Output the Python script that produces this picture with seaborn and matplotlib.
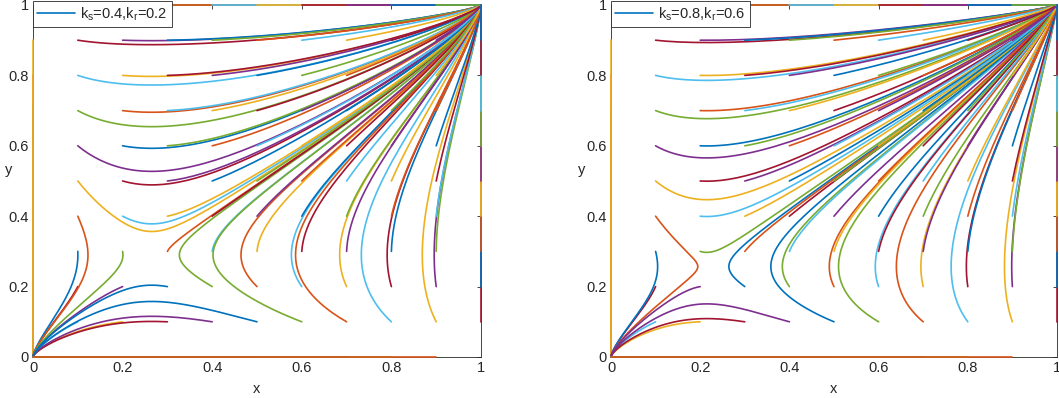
import matplotlib
matplotlib.use("Agg")
import matplotlib.pyplot as plt
import numpy as np
import pandas as pd
import seaborn as sns
from matplotlib.lines import Line2D

# initial points of the phase portrait: every (x0, y0) on this grid
START_VALUES = [0.0, 0.1, 0.2, 0.3, 0.4, 0.5, 0.6, 0.7, 0.8, 0.9, 1.0]

# one entry per panel
K_S = [0.4, 0.8]
K_R = [0.2, 0.6]
SADDLE_X = [0.265, 0.215]
SADDLE_Y = [0.29, 0.257]
RATE_RATIO = [1.35, 1.24]   # speed of x relative to y

TICK_VALUES = [0, 0.2, 0.4, 0.6, 0.8, 1]
TICK_LABELS = ["0", "0.2", "0.4", "0.6", "0.8", "1"]

# MATLAB default colour order
LINE_COLORS = ["#0072BD", "#D95319", "#EDB120", "#7E2F8E",
               "#77AC30", "#4DBEEE", "#A2142F"]

TEXT_COLOR = "#262626"


def configure_style() -> None:
    sns.set_theme(style="white")
    plt.rcParams["font.family"] = ["Liberation Sans", "DejaVu Sans"]
    plt.rcParams["mathtext.default"] = "regular"


def integrate(xs: float, ys: float, ratio: float) -> pd.DataFrame:
    x0, y0 = np.meshgrid(START_VALUES, START_VALUES, indexing="ij")
    x = x0.ravel().astype(float)
    y = y0.ravel().astype(float)

    def rhs(x, y):
        return x * (1 - x) * ratio * (y - ys), y * (1 - y) * (x - xs)

    dt, steps, keep = 0.05, 3000, 3
    xs_hist, ys_hist = [x.copy()], [y.copy()]
    for i in range(steps):
        k1x, k1y = rhs(x, y)
        k2x, k2y = rhs(x + dt / 2 * k1x, y + dt / 2 * k1y)
        k3x, k3y = rhs(x + dt / 2 * k2x, y + dt / 2 * k2y)
        k4x, k4y = rhs(x + dt * k3x, y + dt * k3y)
        x = x + dt / 6 * (k1x + 2 * k2x + 2 * k3x + k4x)
        y = y + dt / 6 * (k1y + 2 * k2y + 2 * k3y + k4y)
        if (i + 1) % keep == 0:
            xs_hist.append(x.copy())
            ys_hist.append(y.copy())

    xs_arr = np.array(xs_hist)
    ys_arr = np.array(ys_hist)
    n_pts, n_traj = xs_arr.shape
    ids = [f"t{k:03d}" for k in range(n_traj)]
    return pd.DataFrame({
        "x": xs_arr.T.ravel(),
        "y": ys_arr.T.ravel(),
        "traj": np.repeat(ids, n_pts),
    })


def draw_panel(ax: plt.Axes, idx: int, ylabel_x: float) -> None:
    df = integrate(SADDLE_X[idx], SADDLE_Y[idx], RATE_RATIO[idx])
    ids = list(dict.fromkeys(df["traj"]))
    palette = {tid: LINE_COLORS[k % len(LINE_COLORS)] for k, tid in enumerate(ids)}

    sns.lineplot(data=df, x="x", y="y", hue="traj", hue_order=ids,
                 palette=palette, estimator=None, sort=False,
                 legend=False, linewidth=1.2, ax=ax)
    for line in ax.lines:
        line.set_clip_on(False)
        line.set_zorder(3)

    ax.set_xlim(0, 1)
    ax.set_ylim(0, 1)
    ax.set_xticks(TICK_VALUES, TICK_LABELS)
    ax.set_yticks(TICK_VALUES, TICK_LABELS)
    ax.tick_params(direction="in", length=3, width=0.6, top=True, right=True,
                   labelsize=10.5, colors=TEXT_COLOR, pad=3)
    for spine in ax.spines.values():
        spine.set_color(TEXT_COLOR)
        spine.set_linewidth(0.6)
        spine.set_zorder(2)
    ax.set_xlabel("x", fontsize=10.5, color=TEXT_COLOR)
    ax.set_ylabel("y", fontsize=10.5, color=TEXT_COLOR, rotation=0)
    ax.xaxis.set_label_coords(0.5, -0.072)
    ax.yaxis.set_label_coords(ylabel_x, 0.51)

    label = f"k$_s$={K_S[idx]},k$_r$={K_R[idx]}"
    handle = Line2D([], [], color=LINE_COLORS[0], linewidth=1.2)
    leg = ax.legend([handle], [label], loc="upper left",
                    bbox_to_anchor=(0, 1.012), borderaxespad=0,
                    fontsize=10.5, handlelength=2.6, handletextpad=0.35,
                    fancybox=False, framealpha=1, borderpad=0.3)
    leg.get_frame().set_edgecolor(TEXT_COLOR)
    leg.get_frame().set_linewidth(0.6)
    leg.set_zorder(5)


def main() -> None:
    configure_style()
    fig = plt.figure(figsize=(10.59, 3.98), dpi=100)
    ax_left = fig.add_axes([33 / 1059, 41 / 398, 448 / 1059, 352 / 398])
    ax_right = fig.add_axes([611 / 1059, 41 / 398, 446 / 1059, 352 / 398])
    draw_panel(ax_left, 0, -0.055)
    draw_panel(ax_right, 1, -0.065)
    fig.savefig("out.png", dpi=100)
    plt.close(fig)


if __name__ == "__main__":
    main()
